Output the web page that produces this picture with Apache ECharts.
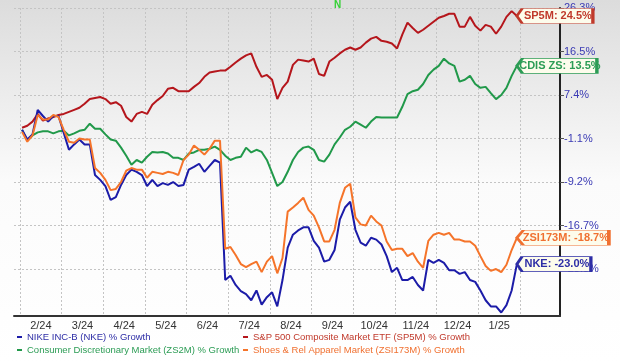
<!DOCTYPE html>
<html>
<head>
<meta charset="utf-8">
<script src="https://cdn.jsdelivr.net/npm/echarts@6/dist/echarts.min.js"></script>
<style>
  html, body { margin: 0; padding: 0; background: #fff; }
  #chart { width: 620px; height: 363px; }
</style>
</head>
<body>
<div id="chart"></div>
<script>
// month labels sit between the monthly grid lines
var monthLabels = ['2/24', '3/24', '4/24', '5/24', '6/24', '7/24', '8/24', '9/24', '10/24', '11/24', '12/24', '1/25'];
// right axis tick values (% growth), evenly spaced on the chart
var tickPct = [26.3, 16.5, 7.4, -1.1, -9.2, -16.7, -23.8];

// samples every 1/8 month, first one just after the first grid line
var startMonth = 0.05;
var stepMonth = 0.125;

var sp5m = [
  1.0, 1.4, 2.2, 3.7, 2.4, 2.8, 3.1, 3.5, 3.7, 4.1,
  4.5, 4.9, 5.7, 6.6, 6.8, 7.0, 6.6, 5.7, 6.0, 5.3,
  3.1, 2.2, 3.7, 4.1, 3.7, 5.5, 6.4, 7.2, 8.7, 8.9,
  8.2, 8.2, 8.2, 9.1, 9.9, 11.2, 12.1, 12.3, 12.5, 12.5,
  13.3, 14.2, 15.0, 15.7, 16.1, 13.3, 11.2, 11.6, 10.6, 6.6,
  8.9, 10.2, 13.7, 14.8, 14.6, 14.4, 15.0, 11.8, 11.4, 14.4,
  15.2, 16.1, 16.9, 17.4, 16.9, 17.4, 18.5, 19.4, 19.8, 18.9,
  18.7, 18.3, 17.2, 20.3, 23.0, 21.8, 20.7, 21.4, 22.3, 23.2,
  24.1, 24.5, 25.0, 25.0, 22.1, 22.1, 24.3, 22.3, 21.2, 22.5,
  22.1, 20.5, 22.1, 24.3, 25.6, 24.5
];

var zs2m = [
  0.6, -1.5, -0.5, 0.1, 0.3, 0.3, -0.1, 0.3, 0.4, -0.5,
  -0.1, 0.4, 0.6, 1.8, 0.8, 0.8, -0.3, -1.3, -1.5, -2.8,
  -4.3, -6.0, -5.1, -5.6, -4.5, -3.6, -3.7, -3.6, -3.9, -4.7,
  -4.7, -5.1, -3.9, -3.7, -3.2, -3.2, -3.0, -2.6, -3.2, -4.3,
  -5.1, -4.7, -4.5, -2.8, -3.7, -3.2, -3.6, -5.1, -7.5, -9.9,
  -9.2, -7.3, -5.1, -3.6, -2.8, -2.6, -3.2, -5.1, -5.4, -4.1,
  -2.2, -0.9, 0.6, 1.2, 2.2, 1.6, 1.0, 2.2, 3.1, 3.0,
  3.0, 3.0, 3.0, 5.1, 7.6, 8.2, 8.5, 9.7, 11.6, 12.7,
  13.5, 15.0, 14.0, 13.5, 10.2, 10.6, 11.4, 9.7, 8.9, 9.1,
  7.8, 6.6, 7.4, 8.9, 11.4, 13.5
];

var nke = [
  0.6, -1.3, -0.3, 4.5, 3.3, 2.2, 3.3, 3.3, 0.0, -3.2,
  -2.2, -1.3, -2.2, -2.2, -7.9, -8.8, -9.9, -12.3, -11.8, -9.7,
  -7.9, -6.9, -7.3, -7.9, -9.9, -8.8, -9.9, -9.4, -9.7, -9.2,
  -9.9, -9.7, -6.9, -6.4, -5.8, -7.3, -6.2, -5.1, -5.6, -25.6,
  -24.9, -26.4, -27.4, -27.9, -28.9, -27.3, -29.6, -28.4, -27.6, -29.9,
  -25.6, -20.3, -18.2, -17.5, -17.0, -17.0, -19.2, -20.3, -22.6, -22.3,
  -20.7, -15.7, -13.6, -12.6, -17.4, -19.5, -20.0, -18.7, -19.0, -19.8,
  -21.7, -24.3, -23.6, -25.6, -25.6, -25.1, -26.4, -27.3, -22.3, -22.8,
  -22.3, -22.8, -24.0, -24.0, -24.6, -24.3, -25.6, -25.9, -27.3, -28.9,
  -29.9, -29.9, -30.9, -29.7, -27.3, -23.0
];

var zsi173m = [
  0.2, -1.7, -0.5, 3.5, 2.6, 2.6, 3.5, 3.1, 0.6, -1.7,
  -1.9, -1.1, -1.3, -1.3, -6.6, -7.5, -8.8, -10.6, -10.4, -9.2,
  -7.1, -6.6, -6.9, -6.9, -8.4, -7.3, -7.5, -7.7, -7.3, -7.5,
  -7.9, -5.1, -4.1, -2.4, -3.2, -4.1, -3.0, -1.5, -1.5, -20.5,
  -20.2, -21.5, -23.0, -23.5, -23.0, -22.6, -24.3, -22.6, -21.7, -24.5,
  -22.0, -14.3, -13.6, -12.8, -11.9, -14.0, -15.0, -17.0, -19.3, -19.3,
  -17.4, -12.8, -10.2, -9.5, -15.3, -16.5, -16.7, -15.0, -16.0, -16.7,
  -19.3, -20.7, -20.5, -20.5, -21.7, -21.2, -22.6, -23.6, -19.2, -18.2,
  -17.9, -18.2, -17.9, -19.0, -19.0, -19.3, -19.3, -20.0, -21.7, -23.3,
  -24.1, -23.8, -24.3, -23.1, -20.7, -18.7
];

(function () {
  var font = 'Arial, "Liberation Sans", sans-serif';

  // the % axis is spaced by its tick labels, not linearly: map a % value
  // onto tick-index units between the two ticks around it
  function toAxis(p) {
    var n = tickPct.length;
    var k = 0;
    if (p <= tickPct[n - 1]) k = n - 2;
    else {
      for (k = 0; k < n - 2; k++) {
        if (p >= tickPct[k + 1]) break;
      }
    }
    return k + (tickPct[k] - p) / (tickPct[k] - tickPct[k + 1]);
  }

  function points(values) {
    return values.map(function (v, i) {
      return [startMonth + i * stepMonth, toAxis(v)];
    });
  }

  function endTag(tag, values, color, width) {
    var last = values.length - 1;
    return {
      silent: true,
      symbol: 'path://M0,8 L6,0 L86,0 L86,16 L6,16 Z',
      symbolSize: [width, 15],
      symbolOffset: [width / 2, 0],
      itemStyle: { color: '#fdfcec', borderColor: color, borderWidth: 1.5 },
      label: {
        show: true,
        position: 'inside',
        offset: [3, 0],
        color: color,
        fontWeight: 'bold',
        fontSize: 11,
        fontFamily: font,
        formatter: tag + ': ' + values[last].toFixed(1) + '%'
      },
      data: [{ coord: [startMonth + last * stepMonth, toAxis(values[last])] }]
    };
  }

  var series = [
    { name: 'Consumer Discretionary Market (ZS2M) % Growth', values: zs2m, color: '#21994a', text: '#2c9c55', tag: 'CDIS ZS', w: 80 },
    { name: 'S&P 500 Composite Market ETF (SP5M) % Growth', values: sp5m, color: '#b5161c', text: '#c0392b', tag: 'SP5M', w: 76 },
    { name: 'NIKE INC-B (NKE) % Growth', values: nke, color: '#1c1ca8', text: '#2d2da6', tag: 'NKE', w: 74 },
    { name: 'Shoes & Rel Apparel Market (ZSI173M) % Growth', values: zsi173m, color: '#f5742a', text: '#f07030', tag: 'ZSI173M', w: 92 }
  ];

  function legendItem(name) {
    var s = series.filter(function (d) { return d.name === name; })[0];
    return { name: name, textStyle: { color: s.text } };
  }

  var legendBase = {
    orient: 'vertical',
    top: 332,
    padding: 0,
    itemGap: 3,
    icon: 'rect',
    itemWidth: 5,
    itemHeight: 2,
    textStyle: { fontSize: 9.5, fontFamily: font }
  };

  var chart = echarts.init(document.getElementById('chart'), null, { renderer: 'canvas' });
  chart.setOption({
    animation: false,
    graphic: [
      {
        type: 'rect',
        silent: true,
        z: -10,
        shape: { x: 0, y: 0, width: 620, height: 363 },
        style: {
          fill: new echarts.graphic.LinearGradient(0, 0, 0, 1, [
            { offset: 0, color: '#dcdcdc' },
            { offset: 0.5, color: '#fbfbfb' },
            { offset: 1, color: '#ffffff' }
          ])
        }
      },
      {
        type: 'text',
        left: 334,
        top: 0,
        silent: true,
        style: { text: 'N', fill: '#35d135', font: 'bold 10px ' + font }
      }
    ],
    grid: { left: 14, right: 60, top: 8, bottom: 47 },
    legend: [
      Object.assign({}, legendBase, { left: 17, data: [legendItem(series[2].name), legendItem(series[0].name)] }),
      Object.assign({}, legendBase, { left: 243, data: [legendItem(series[1].name), legendItem(series[3].name)] })
    ],
    xAxis: {
      type: 'value',
      min: -0.144,
      max: 12.96,
      axisLine: { onZero: false, lineStyle: { color: '#333', width: 2 } },
      axisTick: { show: false, customValues: [0, 1, 2, 3, 4, 5, 6, 7, 8, 9, 10, 11, 12] },
      axisLabel: {
        customValues: [0.5, 1.5, 2.5, 3.5, 4.5, 5.5, 6.5, 7.5, 8.5, 9.5, 10.5, 11.5],
        formatter: function (v) { return monthLabels[Math.round(v - 0.5)]; },
        color: '#333',
        fontSize: 11,
        fontFamily: font,
        margin: 4
      },
      splitLine: { show: true, lineStyle: { color: '#c4c4c4', type: [2, 2] } }
    },
    yAxis: {
      type: 'value',
      position: 'right',
      inverse: true,
      min: 0,
      max: 7.08,
      axisLine: { show: true, onZero: false, lineStyle: { color: '#222', width: 2 } },
      axisTick: { show: true, length: 4, lineStyle: { color: '#555' }, customValues: [0, 1, 2, 3, 4, 5, 6] },
      axisLabel: {
        customValues: [0, 1, 2, 3, 4, 5, 6],
        formatter: function (v) { return tickPct[Math.round(v)].toFixed(1) + '%'; },
        color: '#3a3ab4',
        fontSize: 11,
        fontFamily: font,
        margin: 4
      },
      splitLine: { show: true, lineStyle: { color: '#c4c4c4', type: [2, 2] } }
    },
    series: series.map(function (s) {
      return {
        name: s.name,
        type: 'line',
        clip: false,
        showSymbol: false,
        symbol: 'none',
        color: s.color,
        lineStyle: { color: s.color, width: 2 },
        emphasis: { disabled: true },
        data: points(s.values),
        markPoint: endTag(s.tag, s.values, s.text, s.w)
      };
    })
  });
})();
</script>
</body>
</html>
